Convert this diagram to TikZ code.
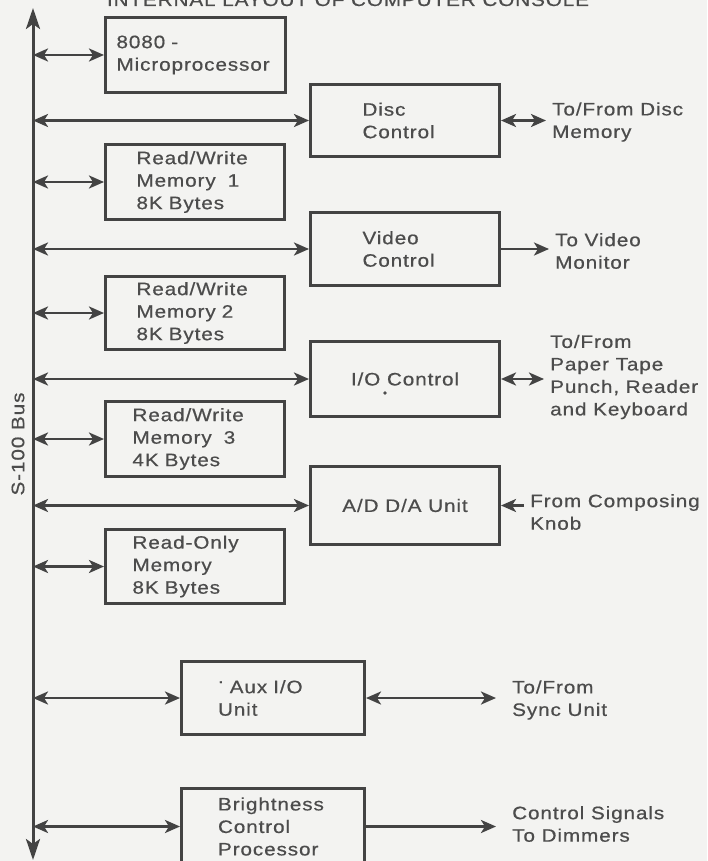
\documentclass[tikz,border=0pt]{standalone}
\usepackage{fontspec}
\setmainfont{Liberation Sans}[FakeStretch=1.15,LetterSpace=5,FakeBold=0.6]
\usetikzlibrary{arrows.meta}
\definecolor{ink}{HTML}{434343}
\definecolor{mute}{HTML}{4C4C4C}
\definecolor{paper}{HTML}{F3F3F1}

\begin{document}
\begin{tikzpicture}[x=1pt, y=-1pt,
  every node/.style={font=\fontsize{18}{22.5}\selectfont, text=mute},
  box/.style={draw=ink, line width=3pt, anchor=north west, align=left, inner sep=0pt},
  ext/.style={anchor=west, align=left, inner xsep=6pt, inner ysep=0pt},
  >={Stealth[length=15pt,width=13pt,inset=4pt]},
  link/.style={ink, line width=2.7pt, <->},
  feed/.style={ink, line width=2.7pt, ->},
  bus/.style={ink, line width=3pt, {Stealth[length=21pt,width=14pt,inset=5pt]}-{Stealth[length=21pt,width=14pt,inset=5pt]}}]
  \useasboundingbox (0,0) rectangle (707,861);
  \fill[paper] (0,0) rectangle (707,861);
  \clip (0,0) rectangle (707,861);

  % title, cut at the top edge
  \node (title) [anchor=base] at (348,6) {INTERNAL LAYOUT OF COMPUTER CONSOLE};

  % bus
  \coordinate (bus top) at (33,8);
  \coordinate (bus bot) at (33,860);
  \draw[bus] (bus bot) -- (bus top);
  \node (buslabel) [rotate=90] at (18,444) {S-100 Bus};

  % boards on the bus
  \node (cpu) [box, minimum width=180pt, minimum height=75pt, text width=158pt] at (104,16) {8080 -\\Microprocessor};
  \node (disc) [box, minimum width=189pt, minimum height=72pt, text width=85pt] at (309,83) {Disc\\Control};
  \node (mem1) [box, minimum width=179pt, minimum height=75pt, text width=117pt] at (104,143) {Read/Write\\Memory~ 1\\8K Bytes};
  \node (video) [box, minimum width=189pt, minimum height=73pt, text width=85pt] at (309,211) {Video\\Control};
  \node (mem2) [box, minimum width=179pt, minimum height=73pt, text width=117pt] at (104,275) {Read/Write\\Memory 2\\8K Bytes};
  \node (io) [box, minimum width=189pt, minimum height=75pt, align=center] at (309,340) {I/O Control};
  \fill[mute] (io.center) ++(-20,14) circle (1.8pt);
  \node (mem3) [box, minimum width=179pt, minimum height=75pt, text width=125pt] at (104,400) {Read/Write\\Memory~ 3\\4K Bytes};
  \node (adda) [box, minimum width=189pt, minimum height=78pt, align=center] at (309,465) {A/D D/A Unit};
  \node (rom) [box, minimum width=179pt, minimum height=74pt, text width=125pt] at (104,528) {Read-Only\\Memory\\8K Bytes};
  \node (aux) [box, minimum width=183pt, minimum height=73pt, text width=110pt] at (180,660) {\raisebox{10pt}{.} Aux I/O\\Unit};
  \node (bright) [box, minimum width=183pt, minimum height=76pt, text width=110pt] at (180,787) {Brightness\\Control\\Processor};

  % outside connections
  \node (discnote) [ext] at (546,122) {To/From Disc\\Memory};
  \node (videonote) [ext] at (549,251) {To Video\\Monitor};
  \node (ionote) [ext] at (544,377) {To/From\\Paper Tape\\Punch, Reader\\and Keyboard};
  \node (knobnote) [ext] at (524,512) {From Composing\\Knob};
  \node (auxnote) [ext, inner xsep=16pt] at (496,700) {To/From\\Sync Unit};
  \node (brightnote) [ext, inner xsep=16pt] at (496,824) {Control Signals\\To Dimmers};

  % bus taps
  \foreach \b in {cpu, disc, mem1, video, mem2, io, mem3, adda, rom, aux, bright}
    \draw[link] (\b.west -| bus top) -- (\b.west);

  \draw[link] (disc.east) -- (disc.east -| discnote.west);
  \draw[feed] (video.east) -- (video.east -| videonote.west);
  \draw[link] (io.east) -- (io.east -| ionote.west);
  \draw[feed] (adda.east -| knobnote.west) -- (adda.east);
  \draw[link] (aux.east) -- (aux.east -| auxnote.west);
  \draw[feed] (bright.east) -- (bright.east -| brightnote.west);
\end{tikzpicture}
\end{document}
